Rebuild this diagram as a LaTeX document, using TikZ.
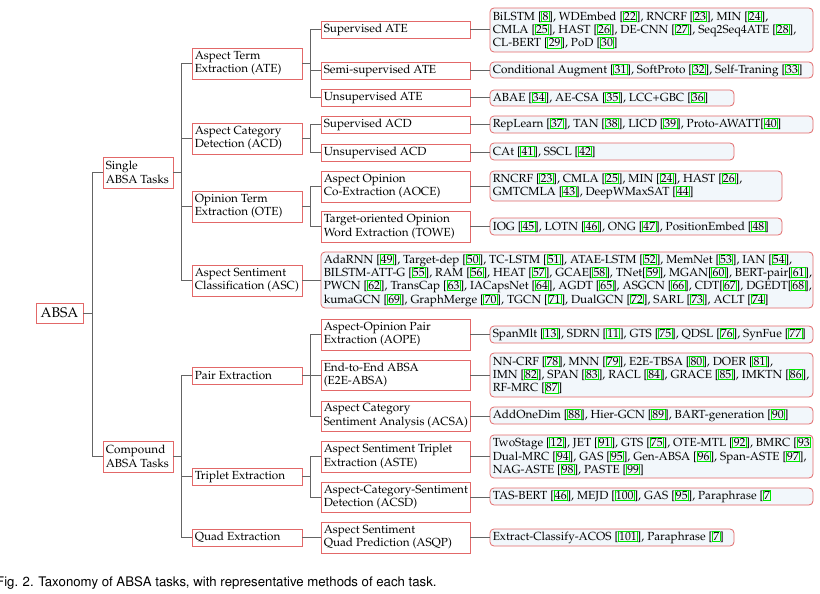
\documentclass[tikz,border=0pt]{standalone}
\usepackage[T1]{fontenc}
\usepackage{mathpazo}
\usepackage[scaled=1]{helvet}
\usepackage{xcolor}
\definecolor{boxred}{RGB}{226,104,104}
\definecolor{leafblue}{RGB}{242,247,251}
\definecolor{linegray}{RGB}{100,100,100}
\definecolor{citegreen}{RGB}{0,230,0}
\newcommand\rf[1]{[\kern-0.6pt{\setlength{\fboxsep}{0.4pt}\setlength{\fboxrule}{0.9pt}\color{citegreen}\fbox{\color{black}#1}}\kern-0.6pt]}
\newcommand\rfo[1]{[\kern-0.6pt{\setlength{\fboxsep}{0.4pt}\setlength{\fboxrule}{0.9pt}\color{citegreen}\fbox{\color{black}#1}}}
\newcommand\mkbox[7]{%
 \pgfmathsetmacro\mkw{#4-#2}\pgfmathsetmacro\mkh{#5-#3}%
 \node[#6, minimum width=\mkw pt, minimum height=\mkh pt] (#1) at ({(#2+#4)/2},{(#3+#5)/2}) {};
 \node[txt, anchor=west] (#1-t) at (#1.west) {#7};}
\tikzset{
 txt/.style={inner xsep=3pt, inner ysep=0pt, align=left, font=\fontsize{11.75}{13.3}\selectfont},
 tbox/.style={draw=boxred, line width=0.8pt, fill=white, rectangle, inner sep=0pt},
 lbox/.style={draw=boxred, line width=0.8pt, fill=leafblue, rounded corners=4pt, inner sep=0pt},
 conn/.style={draw=linegray, line width=0.8pt},
}
\begin{document}
\begin{tikzpicture}[x=1pt,y=-1pt]
\useasboundingbox (0,0) rectangle (820,594);
% root
\node[tbox, font=\fontsize{14}{16}\selectfont, minimum width=47pt, minimum height=20pt, align=center] (absa) at (59.5,313) {ABSA};
% level 1
\mkbox{single}{103}{157}{173}{188}{tbox}{Single\\ABSA Tasks}
\mkbox{compound}{103}{441}{173}{472}{tbox}{Compound\\ABSA Tasks}
% level 2
\mkbox{ate}{192}{48}{302}{79}{tbox}{Aspect Term\\Extraction (ATE)}
\mkbox{acd}{192}{123}{302}{154}{tbox}{Aspect Category\\Detection (ACD)}
\mkbox{ote}{192}{191}{302}{222}{tbox}{Opinion Term\\Extraction (OTE)}
\mkbox{asc}{192}{265}{302}{296}{tbox}{Aspect Sentiment\\Classification (ASC)}
\mkbox{pair}{192}{367}{302}{384}{tbox}{Pair Extraction}
\mkbox{triplet}{192}{468}{302}{485}{tbox}{Triplet Extraction}
\mkbox{quad}{192}{529}{302}{546}{tbox}{Quad Extraction}
% level 3
\mkbox{supate}{321}{21}{470}{38}{tbox}{Supervised ATE}
\mkbox{semiate}{321}{62}{470}{79}{tbox}{Semi-supervised ATE}
\mkbox{unsate}{321}{89}{470}{106}{tbox}{Unsupervised ATE}
\mkbox{supacd}{321}{116}{470}{133}{tbox}{Supervised ACD}
\mkbox{unsacd}{321}{144}{470}{161}{tbox}{Unsupervised ACD}
\mkbox{aoce}{321}{171}{470}{202}{tbox}{Aspect Opinion\\Co-Extraction (AOCE)}
\mkbox{towe}{321}{211}{470}{242}{tbox}{Target-oriented Opinion\\Word Extraction (TOWE)}
\mkbox{aope}{321}{319}{470}{350}{tbox}{Aspect-Opinion Pair\\Extraction (AOPE)}
\mkbox{eea}{321}{360}{470}{390}{tbox}{End-to-End ABSA\\(E2E-ABSA)}
\mkbox{acsa}{321}{401}{470}{431}{tbox}{Aspect Category\\Sentiment Analysis (ACSA)}
\mkbox{aste}{321}{441}{470}{472}{tbox}{Aspect Sentiment Triplet\\Extraction (ASTE)}
\mkbox{acsd}{321}{482}{470}{512}{tbox}{Aspect-Category-Sentiment\\Detection (ACSD)}
\mkbox{asqp}{321}{522}{470}{553}{tbox}{Aspect Sentiment\\Quad Prediction (ASQP)}
% leaves
\mkbox{l1}{490}{8}{813}{52}{lbox}{BiLSTM \rf{8}, WDEmbed \rf{22}, RNCRF \rf{23}, MIN \rf{24},\\CMLA \rf{25}, HAST \rf{26}, DE-CNN \rf{27}, Seq2Seq4ATE \rf{28},\\CL-BERT \rf{29}, PoD \rf{30}}
\mkbox{l2}{490}{62}{813}{78}{lbox}{Conditional Augment \rf{31}, SoftProto \rf{32}, Self-Traning \rf{33}}
\mkbox{l3}{490}{90}{734}{106}{lbox}{ABAE \rf{34}, AE-CSA \rf{35}, LCC+GBC \rf{36}}
\mkbox{l4}{490}{116}{813}{133}{lbox}{RepLearn \rf{37}, TAN \rf{38}, LICD \rf{39}, Proto-AWATT\rf{40}}
\mkbox{l5}{490}{143}{734}{160}{lbox}{CAt \rf{41}, SSCL \rf{42}}
\mkbox{l6}{490}{171}{782}{201}{lbox}{RNCRF \rf{23}, CMLA \rf{25}, MIN \rf{24}, HAST \rf{26},\\GMTCMLA \rf{43}, DeepWMaxSAT \rf{44}}
\mkbox{l7}{490}{218}{782}{235}{lbox}{IOG \rf{45}, LOTN \rf{46}, ONG \rf{47}, PositionEmbed \rf{48}}
\mkbox{lasc}{321}{252}{813}{308}{lbox}{AdaRNN \rf{49}, Target-dep \rf{50}, TC-LSTM \rf{51}, ATAE-LSTM \rf{52}, MemNet \rf{53}, IAN \rf{54},\\BILSTM-ATT-G \rf{55}, RAM \rf{56}, HEAT \rf{57}, GCAE\rf{58}, TNet\rf{59}, MGAN\rf{60}, BERT-pair\rf{61},\\PWCN \rf{62}, TransCap \rf{63}, IACapsNet \rf{64}, AGDT \rf{65}, ASGCN \rf{66}, CDT\rf{67}, DGEDT\rf{68},\\kumaGCN \rf{69}, GraphMerge \rf{70}, TGCN \rf{71}, DualGCN \rf{72}, SARL \rf{73}, ACLT \rf{74}}
\mkbox{l8}{490}{326}{813}{343}{lbox}{SpanMlt \rf{13}, SDRN \rf{11}, GTS \rf{75}, QDSL \rf{76}, SynFue \rf{77}}
\mkbox{l9}{490}{353}{813}{397}{lbox}{NN-CRF \rf{78}, MNN \rf{79}, E2E-TBSA \rf{80}, DOER \rf{81},\\IMN \rf{82}, SPAN \rf{83}, RACL \rf{84}, GRACE \rf{85}, IMKTN \rf{86},\\RF-MRC \rf{87}}
\mkbox{l10}{490}{407}{813}{424}{lbox}{AddOneDim \rf{88}, Hier-GCN \rf{89}, BART-generation \rf{90}}
\mkbox{l11}{490}{435}{813}{478}{lbox}{TwoStage \rf{12}, JET \rf{91}, GTS \rf{75}, OTE-MTL \rf{92}, BMRC \rfo{93}\\Dual-MRC \rf{94}, GAS \rf{95}, Gen-ABSA \rf{96}, Span-ASTE \rf{97},\\NAG-ASTE \rf{98}, PASTE \rf{99}}
\mkbox{l12}{490}{488}{813}{505}{lbox}{TAS-BERT \rf{46}, MEJD \rf{100}, GAS \rf{95}, Paraphrase \rfo{7}}
\mkbox{l13}{490}{529}{734}{546}{lbox}{Extract-Classify-ACOS \rf{101}, Paraphrase \rf{7}}
% connectors: forks
\foreach \c in {single,compound} \draw[conn] (absa.east) -- ++(9,0) |- (\c.west);
\foreach \c in {ate,acd,ote,asc} \draw[conn] (single.east) -- ++(8,0) |- (\c.west);
\foreach \c in {pair,triplet,quad} \draw[conn] (compound.east) -- ++(8,0) |- (\c.west);
\foreach \c in {supate,semiate,unsate} \draw[conn] (ate.east) -- ++(8,0) |- (\c.west);
\foreach \c in {supacd,unsacd} \draw[conn] (acd.east) -- ++(8,0) |- (\c.west);
\foreach \c in {aoce,towe} \draw[conn] (ote.east) -- ++(8,0) |- (\c.west);
\foreach \c in {aope,eea,acsa} \draw[conn] (pair.east) -- ++(8,0) |- (\c.west);
\foreach \c in {aste,acsd} \draw[conn] (triplet.east) -- ++(8,0) |- (\c.west);
\draw[conn] (quad.east) -- (asqp.west);
\draw[conn] (asc.east) -- (asc.east -| lasc.west);
% leaf connectors
\foreach \p/\l in {supate/l1,semiate/l2,unsate/l3,supacd/l4,unsacd/l5,aoce/l6,towe/l7,aope/l8,eea/l9,acsa/l10,aste/l11,acsd/l12,asqp/l13}
  \draw[conn] (\p.east) -- (\p.east -| \l.west);
% caption
\node[anchor=base west, inner sep=0pt, font=\fontsize{13.2}{15}\sffamily] (cap) at (-4,586.5) {Fig. 2. Taxonomy of ABSA tasks, with representative methods of each task.};
\end{tikzpicture}
\end{document}
